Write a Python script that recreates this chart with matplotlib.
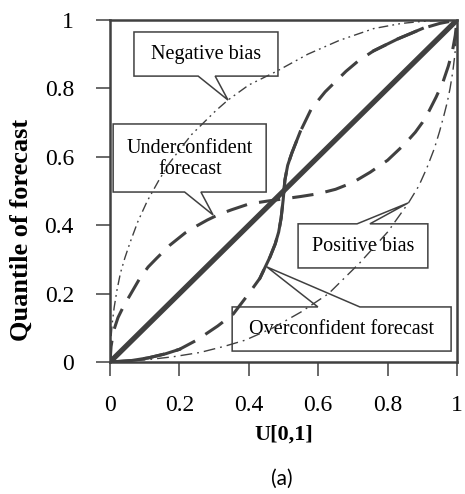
import numpy as np
import matplotlib
matplotlib.use("Agg")
import matplotlib.pyplot as plt
import matplotlib.patches as ptc

# curves (x = U[0,1], y = quantile of forecast)
diag_x = [0.0, 1.0]
diag_y = [0.0, 1.0]

neg_x = [0.0, 0.002, 0.006, 0.012, 0.02, 0.03, 0.043, 0.058, 0.08, 0.107, 0.14, 0.17, 0.2,
         0.235, 0.27, 0.305, 0.34, 0.4, 0.48, 0.57, 0.66, 0.76, 0.84, 0.9, 0.95, 1.0]
neg_y = [0.0, 0.06, 0.11, 0.16, 0.21, 0.26, 0.305, 0.35, 0.41, 0.47, 0.53, 0.58, 0.62,
         0.665, 0.70, 0.735, 0.766, 0.81, 0.85, 0.90, 0.94, 0.975, 0.99, 0.996, 0.999, 1.0]

pos_x = [0.0, 0.1, 0.18, 0.26, 0.33, 0.39, 0.47, 0.55, 0.63, 0.72, 0.8, 0.86, 0.89, 0.913,
         0.935, 0.95, 0.962, 0.972, 0.98, 0.988, 0.994, 0.998, 1.0]
pos_y = [0.0, 0.006, 0.015, 0.028, 0.046, 0.064, 0.10, 0.146, 0.20, 0.29, 0.38, 0.465, 0.515,
         0.567, 0.625, 0.675, 0.72, 0.76, 0.80, 0.85, 0.90, 0.95, 1.0]

under_x = [0.0, 0.003, 0.01, 0.023, 0.04, 0.058, 0.086, 0.11, 0.135, 0.173, 0.216, 0.25,
           0.28, 0.315, 0.35, 0.4, 0.45, 0.5, 0.55, 0.6, 0.65, 0.7, 0.75, 0.8, 0.85, 0.88,
           0.9, 0.92, 0.94, 0.96, 0.975, 0.987, 0.995, 1.0]
under_y = [0.0, 0.045, 0.09, 0.13, 0.165, 0.196, 0.245, 0.278, 0.304, 0.342, 0.377, 0.398,
           0.415, 0.432, 0.445, 0.462, 0.47, 0.477, 0.484, 0.492, 0.505, 0.525, 0.555,
           0.59, 0.638, 0.672, 0.70, 0.735, 0.775, 0.82, 0.865, 0.91, 0.955, 1.0]

over_x = [0.0, 0.06, 0.11, 0.16, 0.2, 0.25, 0.31, 0.355, 0.4, 0.432, 0.461, 0.476, 0.486,
          0.493, 0.499, 0.504, 0.512, 0.524, 0.548, 0.58, 0.62, 0.65, 0.68, 0.715, 0.76,
          0.8, 0.83, 0.87, 0.9, 0.95, 1.0]
over_y = [0.0, 0.004, 0.012, 0.024, 0.037, 0.064, 0.105, 0.14, 0.20, 0.245, 0.307, 0.345,
          0.38, 0.42, 0.474, 0.532, 0.575, 0.611, 0.673, 0.74, 0.79, 0.82, 0.85, 0.88, 0.91,
          0.93, 0.945, 0.962, 0.975, 0.99, 1.0]

ticks = [0, 0.2, 0.4, 0.6, 0.8, 1]
tick_labels = ["0", "0.2", "0.4", "0.6", "0.8", "1"]

GREY = "#404040"
SERIF = "Liberation Serif"


def callout(ax, box, side, base, tip, text, tx, ty):
    """white box with a triangular pointer on its top or bottom edge"""
    x0, y0, x1, y1 = box
    if side == "bottom":
        verts = [(x0, y1), (x1, y1), (x1, y0), (base[1], y0), tip, (base[0], y0), (x0, y0)]
    else:
        verts = [(x0, y0), (x0, y1), (base[0], y1), tip, (base[1], y1), (x1, y1), (x1, y0)]
    ax.add_patch(ptc.Polygon(verts, closed=True, facecolor="white", edgecolor=GREY,
                             linewidth=1.1, zorder=2))
    ax.text(tx, ty, text, ha="center", va="center", fontsize=14.5, family=SERIF,
            linespacing=1.15, zorder=3)


fig = plt.figure(figsize=(4.65, 4.94), dpi=100)
ax = fig.add_axes([0.2366, 0.2672, 0.7462, 0.6923])

ax.plot(neg_x, neg_y, color=GREY, lw=1.0, dashes=(7, 3, 1.3, 3, 1.3, 3), zorder=4)
ax.plot(pos_x, pos_y, color=GREY, lw=1.0, dashes=(8.5, 3.6, 1.3, 3.6), zorder=4)
ax.plot(under_x, under_y, color=GREY, lw=2.2, dashes=(7.0, 4.0), zorder=4)
ax.plot(over_x, over_y, color=GREY, lw=2.2, dashes=(7.0, 4.0), zorder=4)
# the long solid stretches of the overconfident curve
ax.plot(over_x[9:19], over_y[9:19], color=GREY, lw=2.2, zorder=4)
ax.plot(over_x[24:29], over_y[24:29], color=GREY, lw=2.2, zorder=4)
ax.plot(over_x[0:5], over_y[0:5], color=GREY, lw=2.2, zorder=4)
ax.plot(diag_x, diag_y, color=GREY, lw=3.8, zorder=5, solid_capstyle="butt")

callout(ax, (0.069, 0.836, 0.484, 0.965), "bottom", (0.254, 0.303), (0.340, 0.766),
        "Negative bias", 0.277, 0.898)
callout(ax, (0.009, 0.497, 0.450, 0.696), "bottom", (0.215, 0.262), (0.297, 0.430),
        "Underconfident\nforecast", 0.23, 0.594)
callout(ax, (0.542, 0.275, 0.916, 0.404), "top", (0.712, 0.749), (0.859, 0.465),
        "Positive bias", 0.729, 0.337)
callout(ax, (0.352, 0.032, 0.983, 0.161), "top", (0.599, 0.720), (0.452, 0.278),
        "Overconfident forecast", 0.667, 0.094)

ax.set_xlim(0, 1)
ax.set_ylim(0, 1)
ax.set_xticks(ticks)
ax.set_yticks(ticks)
ax.set_xticklabels(tick_labels, family=SERIF, fontsize=17)
ax.set_yticklabels(tick_labels, family=SERIF, fontsize=17)
ax.tick_params(direction="out", length=10, width=1.1, color=GREY)
ax.tick_params(axis="x", pad=14)
ax.tick_params(axis="y", pad=16)
for s in ax.spines.values():
    s.set_linewidth(1.8)
    s.set_color(GREY)

ax.set_xlabel("U[0,1]", family=SERIF, fontsize=16, fontweight="bold", labelpad=6)
ax.set_ylabel("Quantile of forecast", family=SERIF, fontsize=19, fontweight="bold")
ax.yaxis.set_label_coords(-0.222, 0.386)
fig.text(0.606, 0.03, "(a)", ha="center", va="center", fontsize=15, family="Lato")

fig.savefig("out.png", dpi=100)
